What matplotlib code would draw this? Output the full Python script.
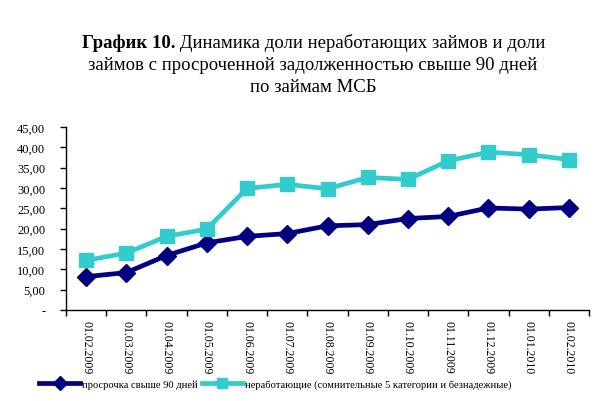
import matplotlib
matplotlib.use("Agg")
import matplotlib.pyplot as plt
import numpy as np
from matplotlib.ticker import FuncFormatter, FixedLocator

plt.rcParams['font.family'] = ['Liberation Serif', 'DejaVu Serif']

dates = ["01.02.2009", "01.03.2009", "01.04.2009", "01.05.2009", "01.06.2009",
         "01.07.2009", "01.08.2009", "01.09.2009", "01.10.2009", "01.11.2009",
         "01.12.2009", "01.01.2010", "01.02.2010"]
overdue = [8.2, 9.2, 13.4, 16.5, 18.1, 18.8, 20.7, 21.0, 22.5, 23.0, 25.1, 24.8, 25.2]
nonperf = [12.2, 14.0, 18.1, 19.9, 29.9, 30.9, 29.8, 32.6, 32.1, 36.7, 38.8, 38.2, 37.0]
label_overdue = "просрочка свыше 90 дней"
label_nonperf = "неработающие (сомнительные 5 категории и безнадежные)"

fig = plt.figure(figsize=(6.06, 4.02), dpi=100)
ax = fig.add_axes([66/606, 1-311/402, (589-66)/606, (311-128)/402])

x = np.arange(len(dates))
ax.plot(x, overdue, color='#000080', lw=3.4, marker='D', ms=9.5, label=label_overdue,
        solid_joinstyle='round')
ax.plot(x, nonperf, color='#33CCCC', lw=3.4, marker='s', ms=10.5, label=label_nonperf,
        solid_joinstyle='round')

ax.set_xlim(-0.5, len(dates)-0.5)
ax.set_ylim(0, 45)
ax.set_yticks(np.arange(0, 46, 5))
ax.yaxis.set_major_formatter(FuncFormatter(lambda v, p: '-' if v == 0 else f"{v:.2f}".replace('.', ',')))
ax.xaxis.set_major_locator(FixedLocator(np.arange(-0.5, len(dates), 1.0)))
ax.xaxis.set_major_formatter(FuncFormatter(lambda v, p: ''))
ax.set_xticks(x, minor=True)
ax.set_xticklabels(dates, minor=True, rotation=-90, fontsize=8.5)
ax.tick_params(axis='x', which='minor', length=0, pad=7)
ax.tick_params(axis='x', which='major', length=4, direction='out', width=1)
ax.tick_params(axis='y', length=4, direction='out', labelsize=9, width=1, pad=11)
for s in ['top', 'right']:
    ax.spines[s].set_visible(False)
for s in ['left', 'bottom']:
    ax.spines[s].set_linewidth(1)

leg = fig.legend(loc='center', bbox_to_anchor=(275/606, 1-385/402), ncol=2, frameon=False,
                 fontsize=7.6, handlelength=3.9, handletextpad=0.15, columnspacing=0.4,
                 markerscale=0.75, borderpad=0, borderaxespad=0)

# Title
fs = 13.5
renderer = fig.canvas.get_renderer()
t1b = fig.text(0, 0, "График 10.", fontsize=fs, fontweight='bold', va='center')
t1n = fig.text(0, 0, " Динамика доли неработающих займов и доли", fontsize=fs, va='center')
wb = t1b.get_window_extent(renderer).width
wn = t1n.get_window_extent(renderer).width
total = wb + wn
x0 = (627 - total) / 2
y1 = 1 - 43/402
t1b.set_position((x0/606, y1))
t1n.set_position(((x0+wb)/606, y1))
fig.text(313/606, 1-65/402, "займов с просроченной задолженностью свыше 90 дней",
         fontsize=fs, ha='center', va='center')
fig.text(313/606, 1-88/402, "по займам МСБ", fontsize=fs, ha='center', va='center')

fig.savefig("out.png", dpi=100)
